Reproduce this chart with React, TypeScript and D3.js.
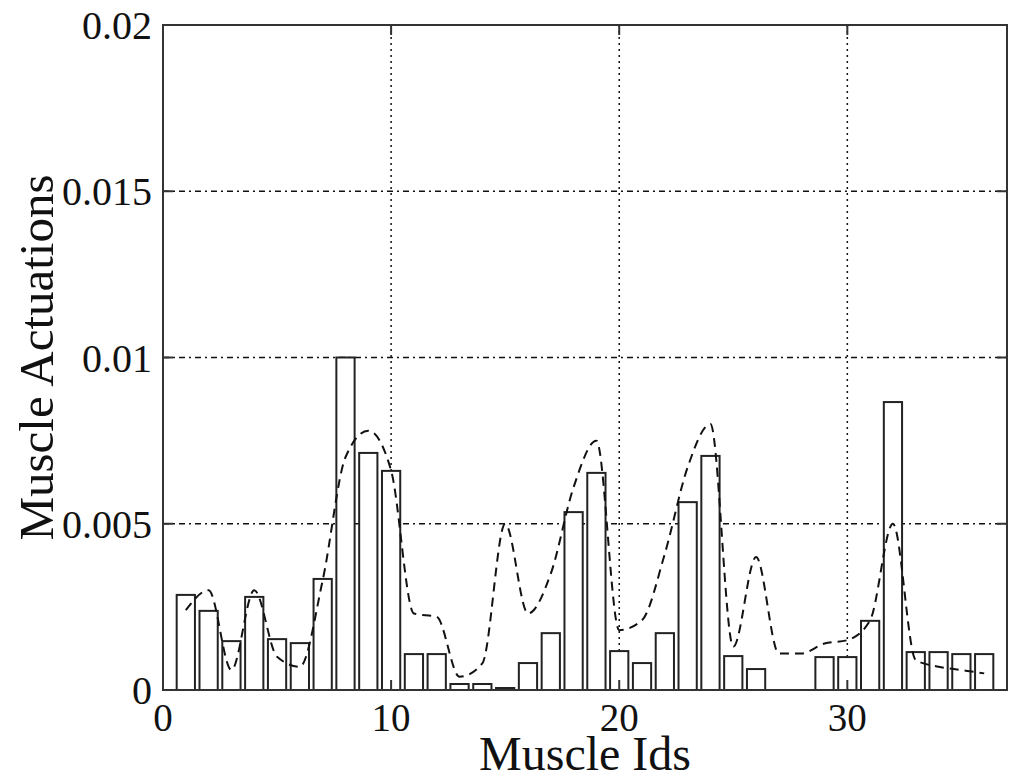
import React, { useEffect, useRef } from 'react';
import * as d3 from 'd3';

// bar heights, muscle ids 1..36
const muscleIds = d3.range(1, 37);
const barValues = [
  0.00286, 0.00238, 0.00147, 0.0028, 0.00153, 0.00141, 0.00334, 0.01, 0.00713, 0.00659,
  0.00108, 0.00108, 0.00018, 0.00018, 0.00006, 0.00081, 0.00171, 0.00535, 0.00653, 0.00117,
  0.00081, 0.00171, 0.00565, 0.00704, 0.00102, 0.00063, 0, 0, 0.00099, 0.00099,
  0.00208, 0.00866, 0.00114, 0.00114, 0.00108, 0.00108,
];
// dashed curve values
const lineValues = [
  0.0024, 0.003, 0.0006, 0.003, 0.001, 0.0007, 0.0033, 0.007, 0.0078, 0.0066,
  0.0023, 0.0022, 0.0004, 0.0008, 0.005, 0.0023, 0.0035, 0.0061, 0.0075, 0.0018,
  0.0021, 0.0041, 0.0067, 0.008, 0.0013, 0.004, 0.0011, 0.0011, 0.0014, 0.0015,
  0.0021, 0.005, 0.0009, 0.0007, 0.0006, 0.0005,
];
const xTicks = [0, 10, 20, 30];
const yTicks = [0, 0.005, 0.01, 0.015, 0.02];

const App = () => {
  const ref = useRef<SVGSVGElement>(null);

  useEffect(() => {
    const svg = d3.select(ref.current);
    svg.selectAll('*').remove();

    const left = 163, right = 1007, top = 25, bottom = 690;
    const x = d3.scaleLinear().domain([0, 37]).range([left, right]);
    const y = d3.scaleLinear().domain([0, 0.02]).range([bottom, top]);
    const font = '"Liberation Serif", "Times New Roman", serif';

    svg.append('rect').attr('width', 1017).attr('height', 778).attr('fill', '#fff');

    // grid
    const grid = svg.append('g').attr('stroke', '#111').attr('stroke-width', 1.5);
    grid.selectAll('line.h')
      .data(yTicks.slice(1, -1))
      .enter().append('line')
      .attr('x1', left).attr('x2', right)
      .attr('y1', d => y(d)).attr('y2', d => y(d))
      .attr('stroke-dasharray', '6,4,2,4');
    grid.selectAll('line.v')
      .data(xTicks.slice(1))
      .enter().append('line')
      .attr('x1', d => x(d)).attr('x2', d => x(d))
      .attr('y1', top).attr('y2', bottom)
      .attr('stroke-dasharray', '2,4');

    // bars
    const bw = 0.8;
    svg.append('g')
      .selectAll('rect')
      .data(muscleIds.filter((_, i) => barValues[i] > 0))
      .enter().append('rect')
      .attr('x', d => x(d - bw / 2))
      .attr('width', x(bw) - x(0))
      .attr('y', d => y(barValues[d - 1]))
      .attr('height', d => y(0) - y(barValues[d - 1]))
      .attr('fill', '#fff')
      .attr('stroke', '#222')
      .attr('stroke-width', 2);

    // dashed curve
    const line = d3.line<number>()
      .x(d => x(d))
      .y(d => y(lineValues[d - 1]))
      .curve(d3.curveMonotoneX);
    svg.append('path')
      .attr('d', line(muscleIds))
      .attr('fill', 'none')
      .attr('stroke', '#111')
      .attr('stroke-width', 2)
      .attr('stroke-dasharray', '9,6');

    // frame
    svg.append('rect')
      .attr('x', left).attr('y', top)
      .attr('width', right - left).attr('height', bottom - top)
      .attr('fill', 'none').attr('stroke', '#333').attr('stroke-width', 2);

    // ticks (inside, both sides)
    const tl = 10;
    const ticks = svg.append('g').attr('stroke', '#333').attr('stroke-width', 2);
    yTicks.slice(1, -1).forEach(t => {
      ticks.append('line').attr('x1', left).attr('x2', left + tl).attr('y1', y(t)).attr('y2', y(t));
      ticks.append('line').attr('x1', right).attr('x2', right - tl).attr('y1', y(t)).attr('y2', y(t));
    });
    xTicks.slice(1).forEach(t => {
      ticks.append('line').attr('x1', x(t)).attr('x2', x(t)).attr('y1', bottom).attr('y2', bottom - tl);
      ticks.append('line').attr('x1', x(t)).attr('x2', x(t)).attr('y1', top).attr('y2', top + tl);
    });

    // tick labels
    svg.append('g')
      .selectAll('text')
      .data(yTicks)
      .enter().append('text')
      .attr('x', left - 11)
      .attr('y', d => y(d) + 14)
      .attr('text-anchor', 'end')
      .style('font-family', font)
      .style('font-size', '40px')
      .attr('fill', '#111')
      .text(d => (d === 0 ? '0' : String(d)));

    svg.append('g')
      .selectAll('text')
      .data(xTicks)
      .enter().append('text')
      .attr('x', d => x(d))
      .attr('y', bottom + 41)
      .attr('text-anchor', 'middle')
      .style('font-family', font)
      .style('font-size', '39px')
      .attr('fill', '#111')
      .text(d => String(d));

    // axis titles
    svg.append('text')
      .attr('x', 585).attr('y', 770)
      .attr('text-anchor', 'middle')
      .style('font-family', font)
      .style('font-size', '48px')
      .attr('fill', '#111')
      .text('Muscle Ids');

    svg.append('text')
      .attr('transform', `translate(53, ${(top + bottom) / 2}) rotate(-90)`)
      .attr('text-anchor', 'middle')
      .style('font-family', font)
      .style('font-size', '49px')
      .attr('fill', '#111')
      .text('Muscle Actuations');
  });

  return (
    <svg ref={ref} width={1017} height={778}
      style={{ position: 'absolute', left: 0, top: 0 }} />
  );
};

export default App;
